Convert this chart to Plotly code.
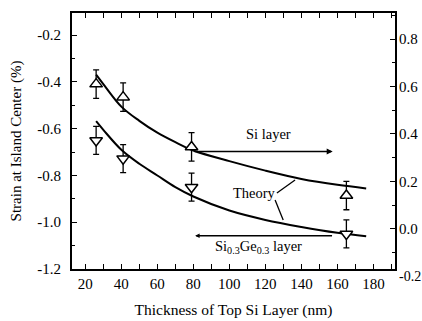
import plotly.graph_objects as go

# Data
thickness = [26, 41, 79, 165]
si_strain = [0.61, 0.555, 0.345, 0.14]          # right axis
si_err = [0.06, 0.06, 0.06, 0.06]
sige_strain = [-0.65, -0.728, -0.85, -1.05]     # left axis
sige_err = [0.06, 0.06, 0.06, 0.06]

theory_x = [26, 30, 40, 50, 60, 70, 80, 100, 120, 140, 160, 176]
theory_si = [0.65, 0.61, 0.515, 0.455, 0.405, 0.365, 0.33, 0.285, 0.245, 0.21, 0.185, 0.17]
theory_sige = [-0.568, -0.605, -0.69, -0.75, -0.80, -0.85, -0.89, -0.95, -0.99, -1.02, -1.045, -1.06]

x_ticks = [20, 40, 60, 80, 100, 120, 140, 160, 180]
left_ticks = [-1.2, -1.0, -0.8, -0.6, -0.4, -0.2]
left_labels = ["-1.2", "-1.0", "-0.8", "-0.6", "-0.4", "-0.2"]
right_ticks = [0.0, 0.2, 0.4, 0.6, 0.8]
right_labels = ["0.0", "0.2", "0.4", "0.6", "0.8"]

FONT = "'Liberation Serif', 'Times New Roman', Times, serif"

fig = go.Figure()
fig.add_trace(go.Scatter(x=theory_x, y=theory_sige, mode="lines",
                         line=dict(color="black", width=2, shape="spline"),
                         yaxis="y", showlegend=False))
fig.add_trace(go.Scatter(x=theory_x, y=theory_si, mode="lines",
                         line=dict(color="black", width=2, shape="spline"),
                         yaxis="y2", showlegend=False))
fig.add_trace(go.Scatter(x=thickness, y=sige_strain, mode="markers",
                         marker=dict(symbol="triangle-down", size=11, color="white",
                                     line=dict(color="black", width=1.5)),
                         error_y=dict(type="data", array=sige_err, color="black",
                                      thickness=1.3, width=3),
                         yaxis="y", showlegend=False))
fig.add_trace(go.Scatter(x=thickness, y=si_strain, mode="markers",
                         marker=dict(symbol="triangle-up", size=11, color="white",
                                     line=dict(color="black", width=1.5)),
                         error_y=dict(type="data", array=si_err, color="black",
                                      thickness=1.3, width=3),
                         yaxis="y2", showlegend=False))

annotations = [
    dict(text="Si layer", x=122, y=0.40, xref="x", yref="y2", showarrow=False,
         font=dict(family=FONT, size=14.5, color="black")),
    dict(text="Theory", x=114, y=-0.875, xref="x", yref="y", showarrow=False,
         font=dict(family=FONT, size=14.5, color="black")),
    dict(text="Si<sub>0.3</sub>Ge<sub>0.3</sub> layer", x=116, y=-1.105, xref="x", yref="y",
         showarrow=False, font=dict(family=FONT, size=14.5, color="black")),
    # Si layer arrow -> right axis
    dict(x=157.4, y=0.326, ax=79, ay=0.326, xref="x", yref="y2", axref="x", ayref="y2",
         showarrow=True, arrowhead=2, arrowsize=0.8, arrowwidth=1.5, arrowcolor="black", text=" "),
    # SiGe arrow -> left axis
    dict(x=81, y=-1.058, ax=158.7, ay=-1.058, xref="x", yref="y", axref="x", ayref="y",
         showarrow=True, arrowhead=2, arrowsize=0.6, arrowwidth=1.5, arrowcolor="black", text=" "),
    # right axis bottom label (below the axis range)
    dict(text="-0.2", x=1, xanchor="left", xshift=2, y=-0.028, yanchor="middle",
         xref="paper", yref="paper",
         showarrow=False, font=dict(family=FONT, size=14, color="black")),
]

shapes = [
    dict(type="line", xref="x", yref="y", x0=126.4, y0=-0.875, x1=136.5, y1=-0.819,
         line=dict(color="black", width=1.3)),
    dict(type="line", xref="x", yref="y", x0=125.4, y0=-0.905, x1=129.9, y1=-0.99,
         line=dict(color="black", width=1.3)),
]

fig.update_layout(
    width=422, height=321,
    font=dict(family=FONT, color="black"),
    margin=dict(l=72, r=27, t=13, b=52),
    paper_bgcolor="white", plot_bgcolor="white",
    annotations=annotations, shapes=shapes,
    xaxis=dict(range=[12.6, 192], tickvals=x_ticks, ticks="inside", ticklen=5,
               tickwidth=1.3, tickcolor="black", showgrid=False, zeroline=False,
               showline=True, linecolor="black", linewidth=2, mirror="allticks",
               tickfont=dict(family=FONT, size=15, color="black"), automargin=False,
               minor=dict(dtick=10, tick0=0, ticks="inside", ticklen=3, tickcolor="black"),
               title=dict(text="Thickness of Top Si Layer (nm)",
                          font=dict(family=FONT, size=15.5, color="black"), standoff=13)),
    yaxis=dict(range=[-1.2, -0.105], tickvals=left_ticks, ticktext=left_labels,
               ticks="inside", ticklen=5, tickwidth=1.3, tickcolor="black",
               showgrid=False, zeroline=False, showline=True, linecolor="black",
               linewidth=2, mirror=True, tickfont=dict(family=FONT, size=15, color="black"),
               ticklabelstandoff=6, automargin=False,
               minor=dict(dtick=0.1, tick0=0, ticks="inside", ticklen=3, tickcolor="black"),
               title=dict(text="Strain at Island Center (%)",
                          font=dict(family=FONT, size=15, color="black"), standoff=12)),
    yaxis2=dict(range=[-0.17, 0.91], overlaying="y", side="right", tickvals=right_ticks,
                ticktext=right_labels, ticklabelstandoff=3, automargin=False,
                ticks="inside", ticklen=5, tickwidth=1.3, tickcolor="black",
                showgrid=False, zeroline=False, showline=False,
                tickfont=dict(family=FONT, size=15, color="black"),
                minor=dict(dtick=0.1, tick0=0, ticks="inside", ticklen=3, tickcolor="black")),
)

fig.write_html("out.html", config={"displayModeBar": False},
               post_script="document.body.style.margin='0';")
